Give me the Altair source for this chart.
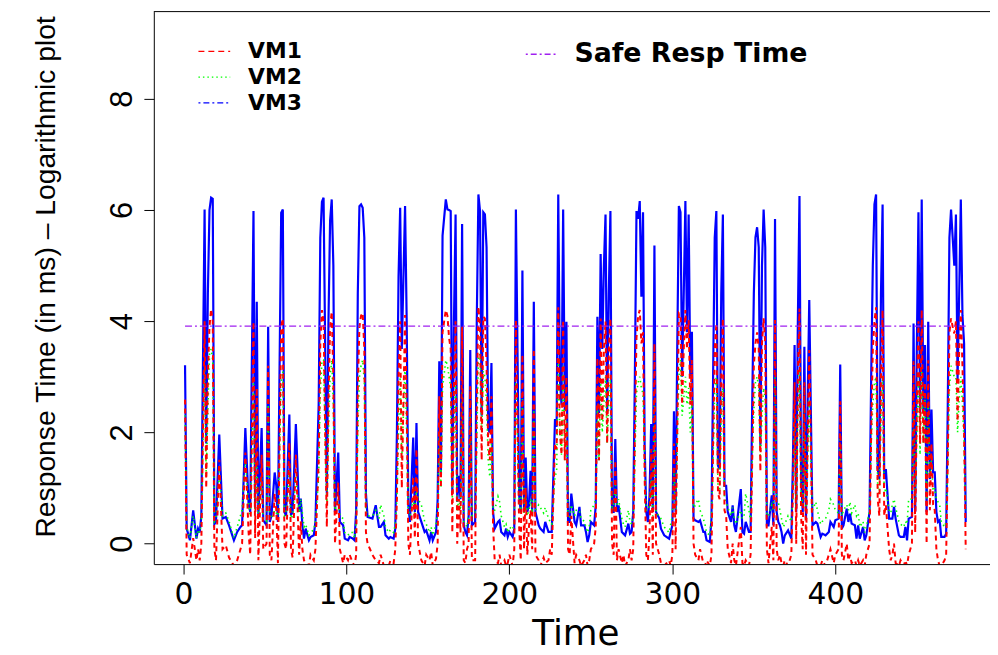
import altair as alt
import pandas as pd

# time index of each reading
time = [1,2,4,6,8,9,10,11,13,14,15,16,17,18,19,20,22,24,26,28,30,31,33,35,36,38,40,41,43,44,45,46,48,49,
        51,52,53,54,56,57,58,60,61,62,63,65,66,67,69,71,72,73,74,75,77,78,80,81,83,84,85,86,87,88,89,90,91,92,93,95,96,98,99,101,102,104,105,106,107,108,109,110,111,112,
        113,116,118,120,121,123,124,126,127,129,130,131,132,133,134,136,137,138,139,141,142,143,144,146,148,149,151,152,153,155,156,157,158,159,161,162,163,164,165,166,167,168,169,170,171,172,173,174,175,176,177,
        179,180,181,182,183,184,185,186,187,188,189,190,191,193,194,195,197,198,199,200,202,203,204,206,207,208,209,210,211,212,213,214,215,216,218,219,221,222,224,225,226,228,229,230,231,232,233,234,235,236,237,238,240,
        241,243,244,246,247,248,249,250,252,253,254,255,256,257,258,259,260,261,262,263,264,265,266,267,269,270,271,273,274,275,276,277,278,279,280,281,282,283,284,285,286,287,288,289,290,292,293,295,298,299,300,301,302,303,304,305,
        306,307,308,309,310,311,312,313,314,316,317,319,320,321,323,324,325,326,327,328,329,330,331,332,333,334,336,337,338,339,342,343,344,345,347,348,349,350,351,352,353,354,355,356,357,358,359,361,362,363,364,365,366,367,368,
        369,371,373,374,375,376,377,378,379,380,381,382,383,384,385,386,388,389,391,392,394,396,397,399,400,402,403,404,405,407,408,409,410,412,413,414,415,417,418,419,421,422,423,424,425,426,427,428,429,430,431,433,
        434,435,436,437,439,440,442,443,444,445,447,448,449,450,451,452,453,454,455,456,457,458,459,460,461,462,463,464,465,467,468,469,470,471,472,473,474,475,476,477,478,479,480]

# VM3 (blue, solid)
vm3 = [3.21,0.27,0.06,0.6,0.09,0.27,0.2,0.5,6.01,1.8,4.5,6.0,6.22,6.2,0.35,0.4,1.96,0.45,0.48,0.33,0.15,0.06,0.21,0.3,0.33,2.08,0.72,0.57,5.98,0.63,4.35,0.51,2.08,0.42,
       0.33,3.9,0.39,0.5,1.28,1.04,0.39,5.95,6.01,0.57,0.5,2.32,0.51,0.57,2.15,0.57,0.81,0.33,0.09,0.27,0.06,0.12,0.15,0.39,2.5,5.5,6.15,6.22,3.5,0.9,4.0,5.8,6.19,5.0,0.57,1.64,0.39,0.33,0.09,0.06,0.12,0.09,0.06,0.6,4.5,6.07,6.1,6.04,5.5,0.9,
       0.48,0.45,0.69,0.3,0.3,0.39,0.15,0.09,0.12,0.09,0.27,2.0,4.8,6.04,3.5,6.07,4.0,0.69,0.39,1.91,0.57,2.17,0.57,0.39,0.21,0.24,0.06,0.21,0.06,0.21,0.8,3.28,1.2,5.54,6.19,6.01,6.0,5.98,0.9,4.0,5.92,0.75,1.22,0.8,5.75,0.33,0.21,0.15,0.5,3.48,0.33,
       0.39,4.0,6.28,5.98,2.3,5.96,5.92,5.33,2.06,2.0,3.25,0.57,0.27,0.39,0.42,0.21,0.15,0.27,0.12,0.21,0.12,0.27,6.01,0.87,0.57,4.91,0.57,1.55,0.57,0.69,1.31,0.57,4.35,0.57,0.33,0.27,0.21,0.39,0.21,0.21,0.21,2.24,2.1,6.28,2.95,2.5,6.01,2.4,3.99,0.39,0.39,0.9,0.39,
       0.33,0.66,0.33,0.33,0.21,0.03,0.15,0.39,0.33,0.69,4.08,2.35,5.21,3.5,5.0,5.92,2.35,4.5,5.98,0.57,0.57,1.88,0.57,0.69,0.21,0.18,0.15,0.36,0.18,0.21,0.57,3.0,5.98,5.84,6.16,4.44,5.96,1.76,0.57,0.39,0.87,2.15,0.57,5.36,0.57,0.45,0.27,0.15,0.09,0.21,0.33,2.38,0.57,3.5,6.07,5.96,
       3.0,4.5,6.16,3.8,5.92,3.0,3.81,0.45,0.42,0.39,0.42,0.21,0.21,0.06,0.03,0.45,3.0,5.5,5.98,1.4,1.34,4.5,5.92,1.04,1.04,0.57,0.39,0.69,0.33,0.21,0.98,0.21,0.18,0.39,0.21,0.21,2.5,4.5,5.51,5.69,5.33,1.76,5.0,6.01,5.33,0.33,0.33,0.87,0.33,5.84,0.57,0.39,0.33,0.21,0.0,
       0.15,0.24,0.09,1.5,3.57,0.57,4.0,6.25,1.16,0.57,3.54,0.45,2.5,4.38,2.35,0.33,0.39,0.36,0.12,0.18,0.15,0.21,0.39,0.3,0.42,0.45,3.22,0.27,0.33,0.63,0.39,0.54,0.36,0.33,0.09,0.33,0.09,0.3,0.06,0.15,0.57,3.0,5.0,6.1,6.28,1.34,1.16,4.5,6.1,1.16,1.34,0.45,
       0.45,0.45,0.66,0.45,0.15,0.12,0.12,0.3,0.06,0.45,0.48,3.96,0.57,3.5,5.96,2.35,6.19,2.35,3.57,0.57,3.99,1.16,2.41,1.28,1.28,0.57,0.39,0.42,0.12,0.12,0.18,2.5,5.5,6.01,5.5,5.0,5.92,2.95,4.5,6.19,4.1,3.6,0.39]

# VM1 (red, dashed)
vm1 = [2.59,-0.2,-0.35,0.1,-0.3,-0.1,-0.3,0.0,4.0,1.0,3.0,3.9,4.22,4.0,-0.1,-0.3,1.51,-0.1,-0.03,-0.25,-0.35,-0.4,-0.3,-0.1,0.0,1.64,0.2,-0.2,3.99,0.1,2.8,-0.3,1.6,-0.1,
       0.0,3.2,-0.2,-0.3,0.9,0.6,-0.35,3.9,4.05,0.0,-0.1,1.82,-0.1,-0.25,1.6,-0.2,0.4,-0.1,-0.3,-0.35,-0.4,-0.2,-0.3,-0.1,1.5,3.6,4.2,4.0,2.0,0.3,2.6,3.9,4.17,3.0,0.0,1.1,-0.1,-0.35,-0.2,-0.3,-0.2,-0.35,-0.4,-0.2,2.8,3.9,4.1,4.15,3.5,0.2,
       0.0,-0.2,-0.3,-0.35,-0.2,-0.4,-0.4,-0.4,-0.3,-0.35,-0.1,0.8,3.0,4.0,1.0,4.11,2.5,0.0,-0.2,1.2,0.1,1.7,0.0,-0.3,-0.4,-0.2,-0.3,-0.15,-0.4,-0.27,0.0,2.65,1.0,3.8,4.2,4.1,3.7,3.5,0.2,2.8,4.0,0.0,0.8,0.2,3.9,-0.3,-0.35,-0.1,0.0,2.83,-0.3,
       -0.3,2.5,4.26,3.9,1.5,4.08,4.05,3.2,1.8,1.5,2.65,0.3,-0.3,-0.35,-0.2,-0.4,-0.3,-0.4,-0.35,-0.2,-0.4,-0.1,4.02,0.3,-0.3,3.4,-0.1,1.0,-0.2,0.3,0.6,-0.1,3.5,-0.2,-0.3,-0.4,-0.25,-0.35,-0.3,-0.1,-0.2,1.8,1.7,4.25,2.0,1.6,4.02,1.5,3.0,-0.1,-0.2,0.5,-0.35,
       -0.2,-0.3,-0.4,-0.3,-0.2,-0.4,-0.3,-0.1,0.0,0.3,3.34,1.5,4.05,2.2,3.5,4.0,1.8,3.5,4.05,0.0,-0.2,1.5,-0.3,-0.1,-0.35,-0.2,-0.4,-0.3,-0.1,-0.3,-0.1,2.0,3.7,4.1,4.2,3.6,3.8,1.2,-0.2,-0.3,0.2,1.7,-0.2,3.6,0.0,-0.2,-0.35,-0.4,-0.3,-0.4,-0.2,1.8,-0.1,2.0,4.14,4.1,
       2.5,3.5,4.2,3.5,4.02,2.5,3.3,0.0,-0.2,-0.3,-0.1,-0.35,-0.4,-0.3,-0.4,-0.2,1.8,3.5,3.96,0.9,0.8,3.0,4.05,0.6,0.5,-0.1,-0.35,0.0,-0.3,-0.4,0.3,-0.35,-0.4,-0.3,-0.4,-0.2,1.5,3.2,3.6,3.8,3.5,1.3,3.6,4.05,3.6,-0.1,-0.35,0.3,-0.3,4.02,-0.1,-0.3,-0.2,-0.35,-0.4,
       -0.3,-0.4,-0.2,1.0,2.9,0.0,3.0,4.23,0.5,-0.1,2.9,-0.2,1.8,3.48,1.8,-0.2,-0.3,-0.4,-0.4,-0.3,-0.4,-0.2,-0.1,-0.35,-0.2,-0.1,2.56,-0.2,-0.3,0.0,-0.3,-0.2,-0.35,-0.3,-0.4,-0.3,-0.4,-0.3,-0.4,-0.2,0.0,2.0,3.5,4.0,4.25,0.8,0.5,3.0,4.2,0.5,0.7,-0.1,
       -0.3,-0.2,0.0,-0.35,-0.4,-0.3,-0.4,-0.3,-0.4,-0.2,0.0,3.28,0.2,2.5,4.0,1.8,4.2,1.8,2.9,0.0,3.3,0.6,1.8,0.7,0.6,-0.1,-0.3,-0.4,-0.4,-0.3,-0.2,1.5,3.8,4.05,3.9,3.78,4.0,2.2,3.5,4.2,3.2,2.0,-0.1]

# VM2 (green, dotted)
vm2 = [2.4,0.3,0.1,0.5,0.1,0.25,0.2,0.4,3.2,1.2,2.4,3.4,3.5,3.3,0.4,0.45,1.3,0.5,0.55,0.4,0.2,0.1,0.3,0.5,0.6,1.5,0.7,0.5,3.0,0.6,1.5,0.5,1.2,0.45,
       0.4,2.5,0.5,0.45,0.6,0.55,0.5,2.9,3.1,0.5,0.55,1.3,0.45,0.5,1.2,0.55,0.8,0.55,0.3,0.35,0.15,0.2,0.25,0.4,1.2,2.7,3.3,3.3,1.8,0.7,2.0,3.0,3.3,2.5,0.6,0.8,0.5,0.45,0.2,0.15,0.2,0.2,0.1,0.4,2.0,3.0,3.2,3.3,2.9,0.6,
       0.5,0.5,0.6,0.45,0.7,0.5,0.3,0.2,0.25,0.2,0.35,0.8,2.0,3.0,1.5,3.2,2.0,0.6,0.5,0.8,0.5,1.0,0.8,0.7,0.4,0.35,0.2,0.3,0.15,0.35,0.6,2.0,1.0,2.8,3.3,3.2,3.0,2.8,0.8,2.0,2.9,0.6,0.8,0.6,2.8,0.4,0.35,0.3,0.5,2.3,0.5,
       0.55,1.8,3.4,3.4,2.0,3.1,3.0,2.5,1.5,1.2,1.8,0.6,0.6,0.85,0.75,0.5,0.3,0.35,0.2,0.3,0.25,0.4,3.0,0.7,0.55,2.6,0.55,0.9,0.5,0.6,0.8,0.55,2.5,0.6,0.7,0.65,0.55,0.65,0.45,0.4,0.35,1.2,1.3,3.3,2.0,1.6,3.2,1.5,2.2,0.5,0.45,0.7,0.5,
       0.6,0.6,0.45,0.4,0.3,0.2,0.3,0.6,0.7,0.8,2.5,1.5,2.9,2.0,2.5,3.0,1.8,2.5,3.0,0.6,0.7,1.1,0.7,0.8,0.45,0.35,0.3,0.6,0.4,0.35,0.5,1.5,2.7,2.9,3.0,2.8,2.7,1.5,0.6,0.6,0.7,1.2,0.5,2.6,0.55,0.5,0.45,0.3,0.2,0.35,0.5,1.3,0.6,1.8,3.0,3.3,
       2.3,2.6,3.0,2.5,2.8,2.0,2.6,0.6,0.7,0.8,0.6,0.45,0.35,0.2,0.15,0.5,1.5,2.8,3.0,1.0,0.9,2.3,2.8,0.8,0.75,0.65,0.5,0.65,0.45,0.35,0.6,0.45,0.5,0.9,0.6,0.4,1.5,2.4,2.9,3.0,2.8,1.5,2.3,2.8,2.6,0.5,0.5,0.7,0.6,3.0,0.8,0.75,0.6,0.45,0.3,
       0.35,0.5,0.4,0.8,2.3,0.6,2.2,3.1,0.9,0.7,2.4,0.6,1.5,2.6,1.5,0.6,0.75,0.6,0.35,0.4,0.45,0.6,0.8,0.7,0.6,0.55,2.0,0.5,0.6,0.7,0.6,0.75,0.55,0.7,0.5,0.55,0.3,0.4,0.2,0.3,0.6,1.8,2.5,2.9,3.0,1.0,0.9,2.3,3.0,0.9,1.0,0.6,
       0.55,0.7,0.8,0.65,0.4,0.35,0.3,0.4,0.35,0.8,0.8,2.4,0.7,2.0,3.0,1.6,3.2,1.8,2.6,0.7,2.7,1.2,1.5,0.9,1.0,0.8,0.75,0.7,0.4,0.3,0.4,1.5,2.8,3.2,3.1,3.0,3.0,2.0,2.6,3.0,2.5,1.8,0.6]

# Safe response time threshold (log of 50 ms)
safe_time = [1, 480]
safe_val = [3.91, 3.91]

# Legend labels
legend_left = ["VM1", "VM2", "VM3"]
legend_right = ["Safe Resp Time"]

assert len(time) == len(vm1) == len(vm2) == len(vm3), (len(time), len(vm1), len(vm2), len(vm3))

df = pd.DataFrame({"time": time, "vm1": vm1, "vm2": vm2, "vm3": vm3})
safe_df = pd.DataFrame({"time": safe_time, "val": safe_val})

W, H = 843, 557
SANS = "Liberation Sans, Arial, Helvetica"

xscale = alt.Scale(domain=[-18.16, 494.9], nice=False, zero=False)
yscale = alt.Scale(domain=[-0.368, 9.568], nice=False, zero=False)

xaxis = alt.Axis(values=[0, 100, 200, 300, 400], grid=False, tickSize=10, tickColor="black",
                 domainColor="black", labelFont="DejaVu Sans", labelFontSize=30, labelColor="black",
                 labelPadding=6, title="Time", titleFont="DejaVu Sans", titleFontSize=36,
                 titleFontWeight="normal", titleColor="black", titleX=425, titleY=81,
                 titleAlign="center", titleBaseline="alphabetic", format="d")
yaxis = alt.Axis(values=[0, 2, 4, 6, 8], grid=False, tickSize=10, tickColor="black",
                 domainColor="black", labelFont=SANS, labelFontSize=31, labelColor="black",
                 labelAngle=270, labelAlign="center", labelBaseline="bottom", labelPadding=5,
                 title="Response Time (in ms) \u2013 Logarithmic plot", titleFont=SANS,
                 titleFontSize=28.5, titleFontWeight="normal", titleColor="black", titleAngle=270,
                 titleX=-109, titleY=267, titleAlign="center", titleBaseline="middle", format="d")

base = alt.Chart(df)
blue = base.mark_line(color="#0000FF", strokeWidth=2.2, clip=True).encode(
    x=alt.X("time:Q", scale=xscale, axis=xaxis), y=alt.Y("vm3:Q", scale=yscale, axis=yaxis))
green = base.mark_line(color="#00FF00", strokeWidth=1.6, strokeDash=[1.5, 3.5], clip=True).encode(
    x=alt.X("time:Q", scale=xscale), y=alt.Y("vm2:Q", scale=yscale))
red = base.mark_line(color="#FF0000", strokeWidth=2, strokeDash=[5, 4], clip=True).encode(
    x=alt.X("time:Q", scale=xscale), y=alt.Y("vm1:Q", scale=yscale))
safe = alt.Chart(safe_df).mark_line(color="#A020F0", strokeWidth=1.2, strokeDash=[7, 3, 2, 3], clip=True).encode(
    x=alt.X("time:Q", scale=xscale), y=alt.Y("val:Q", scale=yscale))

one = pd.DataFrame({"k": [0]})
top_frame = alt.Chart(one).mark_rule(color="black", strokeWidth=1).encode(
    x=alt.value(0), x2=alt.value(W), y=alt.value(0))

leg_styles = [("#FF0000", [6, 4], 40), ("#00FF00", [1.5, 3], 66), ("#0000FF", [2, 3, 6, 3], 92)]
legend_layers = []
for lab, (col, dash, yy) in zip(legend_left, leg_styles):
    d = pd.DataFrame({"label": [lab]})
    legend_layers.append(alt.Chart(d).mark_rule(color=col, strokeWidth=1.3, strokeDash=dash).encode(
        x=alt.value(45), x2=alt.value(77), y=alt.value(yy)))
    legend_layers.append(alt.Chart(d).mark_text(align="left", baseline="middle", font="DejaVu Sans",
                                                fontWeight="bold", fontSize=22, color="black").encode(
        x=alt.value(95), y=alt.value(yy), text="label:N"))
d = pd.DataFrame({"label": legend_right})
legend_layers.append(alt.Chart(d).mark_rule(color="#A020F0", strokeWidth=1.3, strokeDash=[2, 3, 6, 3]).encode(
    x=alt.value(375), x2=alt.value(407), y=alt.value(43)))
legend_layers.append(alt.Chart(d).mark_text(align="left", baseline="middle", font="DejaVu Sans",
                                            fontWeight="bold", fontSize=27, color="black").encode(
    x=alt.value(424), y=alt.value(43), text="label:N"))

chart = alt.layer(blue, green, red, safe, top_frame, *legend_layers).properties(
    width=W, height=H,
    padding={"left": 147, "top": 1, "right": 0, "bottom": 88},
    autosize=alt.AutoSizeParams(type="none"),
    background="white",
).configure_view(stroke=None)

chart.save("out.html", embed_options={"renderer": "svg", "actions": False})
